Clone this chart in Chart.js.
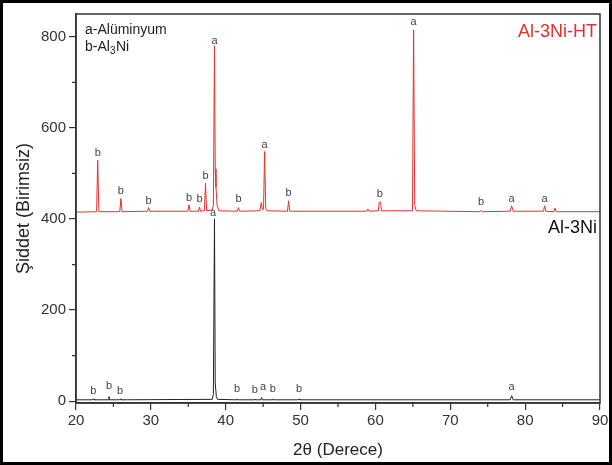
<!DOCTYPE html>
<html>
<head>
<meta charset="utf-8">
<script src="https://cdn.jsdelivr.net/npm/chart.js@4.4.1/dist/chart.umd.min.js"></script>
<style>
  html, body { margin: 0; padding: 0; background: #fff; }
  #wrap { width: 612px; height: 465px; }
</style>
</head>
<body>
<div id="wrap"><canvas id="chart" width="612" height="465"></canvas></div>
<script>
// Al-3Ni-HT trace (2θ, intensity) - offset pattern on top
const redX = [20, 22.75, 22.9, 23.05, 25.85, 26.0, 26.15, 29.55, 29.7, 29.85,
  34.95, 35.1, 35.25, 36.35, 36.5, 36.65, 37.15, 37.3, 37.45, 38.2, 38.35, 38.5,
  38.6, 38.7, 38.85, 39.1, 41.55, 41.7, 41.85, 44.55, 44.75, 44.9, 45.05, 45.2,
  45.35, 45.5, 48.25, 48.4, 48.55, 58.85, 59.0, 59.15, 60.4, 60.5, 60.7, 60.8,
  64.95, 65.1, 65.25, 65.45, 73.95, 74.1, 74.25, 78.0, 78.2, 78.4, 82.45, 82.6,
  82.75, 83.85, 84.0, 84.15, 90];
const redY = [415, 416, 529, 416, 416, 445, 416, 417, 425, 417,
  417, 431, 417, 417, 426, 417, 418, 478, 418, 420, 430, 780,
  510, 470, 430, 418, 417, 425, 417, 418, 436, 420, 422, 548,
  422, 418, 417, 440, 417, 417, 422, 417, 418, 437, 437, 418,
  418, 815, 430, 418, 416, 419, 416, 417, 429, 417, 417, 429,
  417, 416, 424, 416, 416];

// Al-3Ni trace
const blackX = [20, 22.2, 22.3, 22.4, 24.3, 24.4, 24.5, 25.8, 25.9, 26.0,
  38.2, 38.35, 38.5, 38.6, 38.75, 38.9, 41.4, 41.5, 41.6, 43.8, 43.9, 44.0,
  44.7, 44.8, 44.9, 46.2, 46.3, 46.4, 49.7, 49.8, 49.9, 78.0, 78.2, 78.4, 90];
const blackY = [3, 3, 5, 3, 3, 10, 3, 3, 5, 3,
  4, 15, 400, 40, 10, 4, 3, 5, 3, 3, 5, 3,
  3, 8, 3, 3, 5, 3, 3, 5, 3, 3, 12, 3, 3];

// phase letters over the peaks
const redLabelX = [22.9, 26.0, 29.7, 35.1, 36.5, 37.3, 38.5, 41.7, 45.2, 48.4, 60.6, 65.1, 74.1, 78.2, 82.6];
const redLabelY = [546, 462, 440, 447, 445, 495, 791, 445, 563, 456, 454, 833, 438, 445, 445];
const redLabelTxt = ['b', 'b', 'b', 'b', 'b', 'b', 'a', 'b', 'a', 'b', 'b', 'a', 'b', 'a', 'a'];

const blackLabelX = [22.3, 24.4, 25.9, 38.3, 41.5, 43.9, 45.0, 46.3, 49.8, 78.2];
const blackLabelY = [22, 33, 22, 414, 26, 24, 31, 26, 26, 31];
const blackLabelTxt = ['b', 'b', 'b', 'a', 'b', 'b', 'a', 'b', 'b', 'a'];

const xTicks = [20, 30, 40, 50, 60, 70, 80, 90];
const yTicks = [0, 200, 400, 600, 800];

const FONT = '"Liberation Sans", Arial, sans-serif';

function toPoints(xs, ys) {
  return xs.map((x, i) => ({ x: x, y: ys[i] }));
}

const extras = {
  id: 'extras',
  afterDraw(chart) {
    const ctx = chart.ctx;
    const a = chart.chartArea;
    const xs = chart.scales.x, ys = chart.scales.y;
    ctx.save();
    // plot frame
    ctx.strokeStyle = '#333';
    ctx.lineWidth = 1.5;
    ctx.strokeRect(a.left, a.top, a.right - a.left, a.bottom - a.top);
    // minor ticks
    ctx.lineWidth = 1.2;
    ctx.beginPath();
    for (let v = 25; v < 90; v += 10) {
      const px = xs.getPixelForValue(v);
      ctx.moveTo(px, a.bottom);
      ctx.lineTo(px, a.bottom + 4);
    }
    for (let v = 100; v < 850; v += 200) {
      const py = ys.getPixelForValue(v);
      ctx.moveTo(a.left, py);
      ctx.lineTo(a.left - 4, py);
    }
    ctx.stroke();

    // peak letters
    ctx.font = '11px ' + FONT;
    ctx.textAlign = 'center';
    ctx.textBaseline = 'middle';
    ctx.fillStyle = '#444';
    redLabelX.forEach((x, i) => {
      ctx.fillText(redLabelTxt[i], xs.getPixelForValue(x), ys.getPixelForValue(redLabelY[i]));
    });
    blackLabelX.forEach((x, i) => {
      ctx.fillText(blackLabelTxt[i], xs.getPixelForValue(x), ys.getPixelForValue(blackLabelY[i]));
    });

    // phase key
    ctx.fillStyle = '#222';
    ctx.textAlign = 'left';
    ctx.font = '14px ' + FONT;
    ctx.fillText('a-Alüminyum', a.left + 9, 30);
    ctx.fillText('b-Al', a.left + 9, 47);
    const w = ctx.measureText('b-Al').width;
    ctx.font = '10px ' + FONT;
    ctx.fillText('3', a.left + 9 + w, 51);
    ctx.font = '14px ' + FONT;
    ctx.fillText('Ni', a.left + 9 + w + 6, 47);

    // sample names
    ctx.textAlign = 'right';
    ctx.font = '18px ' + FONT;
    ctx.fillStyle = '#e2322d';
    ctx.fillText('Al-3Ni-HT', a.right - 3, 32);
    ctx.fillStyle = '#111';
    ctx.fillText('Al-3Ni', a.right - 3, 228);

    // outer border
    ctx.strokeStyle = '#000';
    ctx.lineWidth = 3;
    ctx.strokeRect(1.5, 1.5, chart.width - 3, chart.height - 3);
    ctx.restore();
  }
};

new Chart(document.getElementById('chart'), {
  type: 'scatter',
  data: {
    datasets: [{
      label: 'Al-3Ni-HT',
      data: toPoints(redX, redY),
      showLine: true,
      borderColor: '#e2322d',
      borderWidth: 1,
      pointRadius: 0,
      tension: 0
    }, {
      label: 'Al-3Ni',
      data: toPoints(blackX, blackY),
      showLine: true,
      borderColor: '#222',
      borderWidth: 1,
      pointRadius: 0,
      tension: 0
    }]
  },
  options: {
    responsive: false,
    animation: false,
    events: [],
    layout: { padding: { left: 0, right: 12, top: 14, bottom: 0 } },
    plugins: { legend: { display: false }, tooltip: { enabled: false } },
    scales: {
      x: {
        type: 'linear',
        min: 20, max: 90,
        afterBuildTicks: s => { s.ticks = xTicks.map(v => ({ value: v })); },
        afterFit: s => { s.height = 62; },
        border: { display: true, color: '#333', width: 1.5 },
        grid: { drawOnChartArea: false, tickLength: 7, color: '#333', lineWidth: 1.2 },
        ticks: { color: '#333', font: { family: FONT, size: 15 }, padding: 2, maxRotation: 0 },
        title: { display: true, text: '2θ (Derece)', color: '#222', font: { family: FONT, size: 17 }, padding: { top: 0 } }
      },
      y: {
        min: -4, max: 850,
        afterBuildTicks: s => { s.ticks = yTicks.map(v => ({ value: v })); },
        afterFit: s => { s.width = 76; },
        border: { display: true, color: '#333', width: 1.5 },
        grid: { drawOnChartArea: false, tickLength: 7, color: '#333', lineWidth: 1.2 },
        ticks: { color: '#333', font: { family: FONT, size: 15 }, padding: 3 },
        title: { display: true, text: 'Şiddet (Birimsiz)', color: '#222', font: { family: FONT, size: 18 }, padding: { top: 13, bottom: 0 } }
      }
    }
  },
  plugins: [extras]
});
</script>
</body>
</html>
